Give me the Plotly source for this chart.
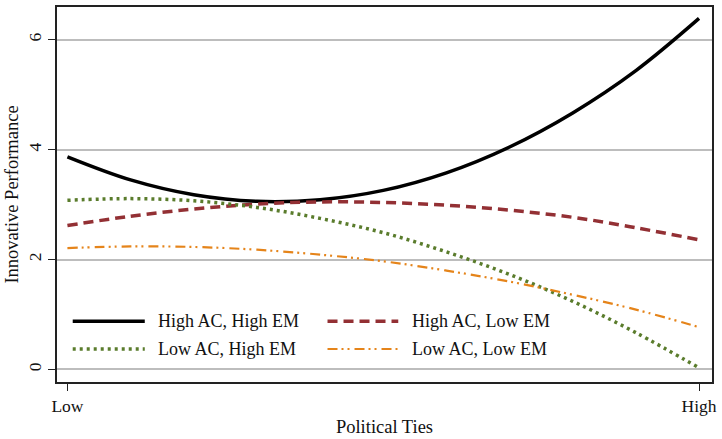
import plotly.graph_objects as go

# Political ties (0 = Low, 1 = High)
ties = [0.0, 0.1, 0.2, 0.3, 0.4, 0.5, 0.6, 0.7, 0.8, 0.9, 1.0]

# Predicted innovative performance for each AC / EM combination
high_ac_high_em = [3.87, 3.45, 3.18, 3.06, 3.09, 3.26, 3.58, 4.05, 4.67, 5.44, 6.39]
high_ac_low_em = [2.62, 2.79, 2.92, 3.01, 3.05, 3.04, 2.99, 2.90, 2.77, 2.58, 2.36]
low_ac_high_em = [3.08, 3.11, 3.07, 2.95, 2.75, 2.49, 2.14, 1.73, 1.24, 0.67, 0.03]
low_ac_low_em = [2.21, 2.24, 2.23, 2.18, 2.09, 1.97, 1.80, 1.60, 1.36, 1.09, 0.77]

series_names = ["High AC, High EM", "High AC, Low EM", "Low AC, High EM", "Low AC, Low EM"]
x_tick_vals = [0, 1]
x_tick_text = ["Low", "High"]
y_tick_vals = [0, 2, 4, 6]

FONT = "Liberation Serif"
TEXT_COLOR = "#111111"

styles = [
    dict(color="#000000", width=3.5, dash="solid"),
    dict(color="#933034", width=3.5, dash="10px,6px"),
    dict(color="#5a7c2c", width=3.5, dash="3px,4px"),
    dict(color="#e5841a", width=2.2, dash="10px,4px,2px,4px,2px,5px"),
]
values = [high_ac_high_em, high_ac_low_em, low_ac_high_em, low_ac_low_em]

fig = go.Figure()
for name, ys, st in zip(series_names, values, styles):
    fig.add_trace(go.Scatter(
        x=ties, y=ys, mode="lines", name=name,
        line=dict(shape="spline", smoothing=1.0, **st),
        showlegend=False,
    ))

# Two-column key inside the plot area, drawn as line samples plus labels
key_pos = [
    (0.024, 0.134, 0.151, 0.162),
    (0.413, 0.521, 0.539, 0.162),
    (0.024, 0.134, 0.151, 0.088),
    (0.413, 0.521, 0.539, 0.088),
]
for name, st, (x0, x1, xt, yk) in zip(series_names, styles, key_pos):
    fig.add_shape(type="line", xref="paper", yref="paper",
                  x0=x0, x1=x1, y0=yk, y1=yk,
                  line=dict(color=st["color"], width=st["width"], dash=st["dash"]))
    fig.add_annotation(x=xt, y=yk, xref="paper", yref="paper",
                       text=name, showarrow=False, xanchor="left", yanchor="middle",
                       font=dict(family=FONT, size=18, color=TEXT_COLOR))

fig.update_layout(
    width=722, height=439,
    margin=dict(l=57, r=7, t=5, b=55),
    paper_bgcolor="white", plot_bgcolor="white",
    font=dict(family=FONT, size=17.5, color=TEXT_COLOR),
    showlegend=False,
)
fig.update_xaxes(
    range=[-0.0165, 1.0205],
    tickvals=x_tick_vals, ticktext=x_tick_text,
    ticks="outside", ticklen=7, tickwidth=1.3, tickcolor="#222222",
    showgrid=False, zeroline=False,
    showline=True, linecolor="#222222", linewidth=1.6, mirror=True,
    title=dict(text="Political Ties", standoff=5, font=dict(family=FONT, size=18.5)),
)
fig.update_yaxes(
    range=[-0.228, 6.598],
    tickvals=y_tick_vals, tickangle=-90,
    ticks="outside", ticklen=7, tickwidth=1.3, tickcolor="#222222",
    showgrid=True, gridcolor="#bdbdbd", gridwidth=1.5,
    zeroline=False,
    showline=True, linecolor="#222222", linewidth=1.6, mirror=True,
    title=dict(text="Innovative Performance", standoff=2, font=dict(family=FONT, size=18.5)),
)

fig.write_html("out.html")
